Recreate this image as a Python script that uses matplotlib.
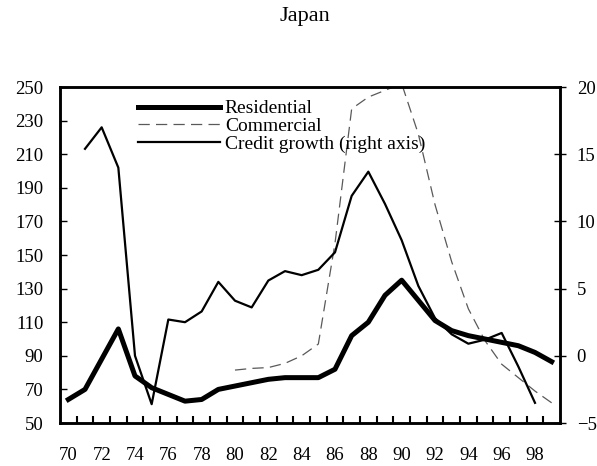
import matplotlib
matplotlib.use("Agg")
import matplotlib.pyplot as plt
from matplotlib.ticker import FixedLocator, NullFormatter

# --- data -----------------------------------------------------------------
years_res = list(range(70, 100))
residential = [64, 70, 88, 106, 78, 71, 67, 63, 64, 70,
               72, 74, 76, 77, 77, 77, 82, 102, 110, 126,
               135, 123, 111, 105, 102, 100, 98, 96, 92, 86.5]

years_com = list(range(80, 100))
commercial = [81.5, 82.5, 83, 85.5, 90, 97, 157, 237, 244, 248,
              252, 222, 180, 146, 118, 99, 85, 77, 69, 62]

years_cred = list(range(71, 99))
credit = [15.4, 17, 14, 0, -3.6, 2.7, 2.5, 3.3, 5.5, 4.1,
          3.6, 5.6, 6.3, 6.0, 6.4, 7.7, 11.9, 13.7, 11.3, 8.6,
          5.2, 2.8, 1.6, 0.9, 1.2, 1.7, -0.8, -3.5]

left_ticks = list(range(50, 251, 20))
right_ticks = [-5, 0, 5, 10, 15, 20]
x_labels = list(range(70, 99, 2))

plt.rcParams["font.family"] = ["Liberation Serif", "DejaVu Serif"]
plt.rcParams["font.size"] = 13.5

fig = plt.figure(figsize=(5.97, 4.66), dpi=100)
ax = fig.add_axes([60 / 597, 1 - 423 / 466, 500 / 597, 336 / 466])
ax2 = ax.twinx()

l1, = ax.plot(years_res, residential, color="black", lw=3.6,
              solid_joinstyle="round", zorder=3, label="Residential")
l2, = ax.plot(years_com, commercial, color="0.35", lw=0.9,
              dashes=(9, 5), zorder=2, label="Commercial")
l3, = ax2.plot(years_cred, credit, color="black", lw=1.6,
               label="Credit growth (right axis)")

ax.set_xlim(69.5, 99.5)
ax.set_ylim(50, 250)
ax2.set_ylim(-5, 20)

ax.set_yticks(left_ticks)
ax2.set_yticks(right_ticks)
ax.set_xticks(x_labels)
ax.xaxis.set_minor_locator(FixedLocator([y + 0.5 for y in range(70, 99)]))
ax.xaxis.set_minor_formatter(NullFormatter())

ax.tick_params(axis="x", which="major", length=0, pad=17, labelsize=13.5)
ax.tick_params(axis="x", which="minor", direction="in", length=5, width=1.5)
ax.tick_params(axis="y", direction="in", length=5, width=1, pad=12, labelsize=13.5)
ax2.tick_params(axis="y", direction="inout", length=8, width=1, pad=8, labelsize=13.5)

for a in (ax, ax2):
    for s in a.spines.values():
        s.set_linewidth(1.8)

fig.text(305 / 597, 1 - 17 / 466, "Japan", ha="center", va="center", fontsize=16)

leg = ax.legend([l1, l2, l3], [l.get_label() for l in (l1, l2, l3)],
                loc="upper left", bbox_to_anchor=(0.141, 0.985), frameon=False,
                handlelength=4.2, handletextpad=0.25, labelspacing=0.0,
                borderaxespad=0, fontsize=14)
leg.set_zorder(5)

fig.savefig("out.png", dpi=100)
